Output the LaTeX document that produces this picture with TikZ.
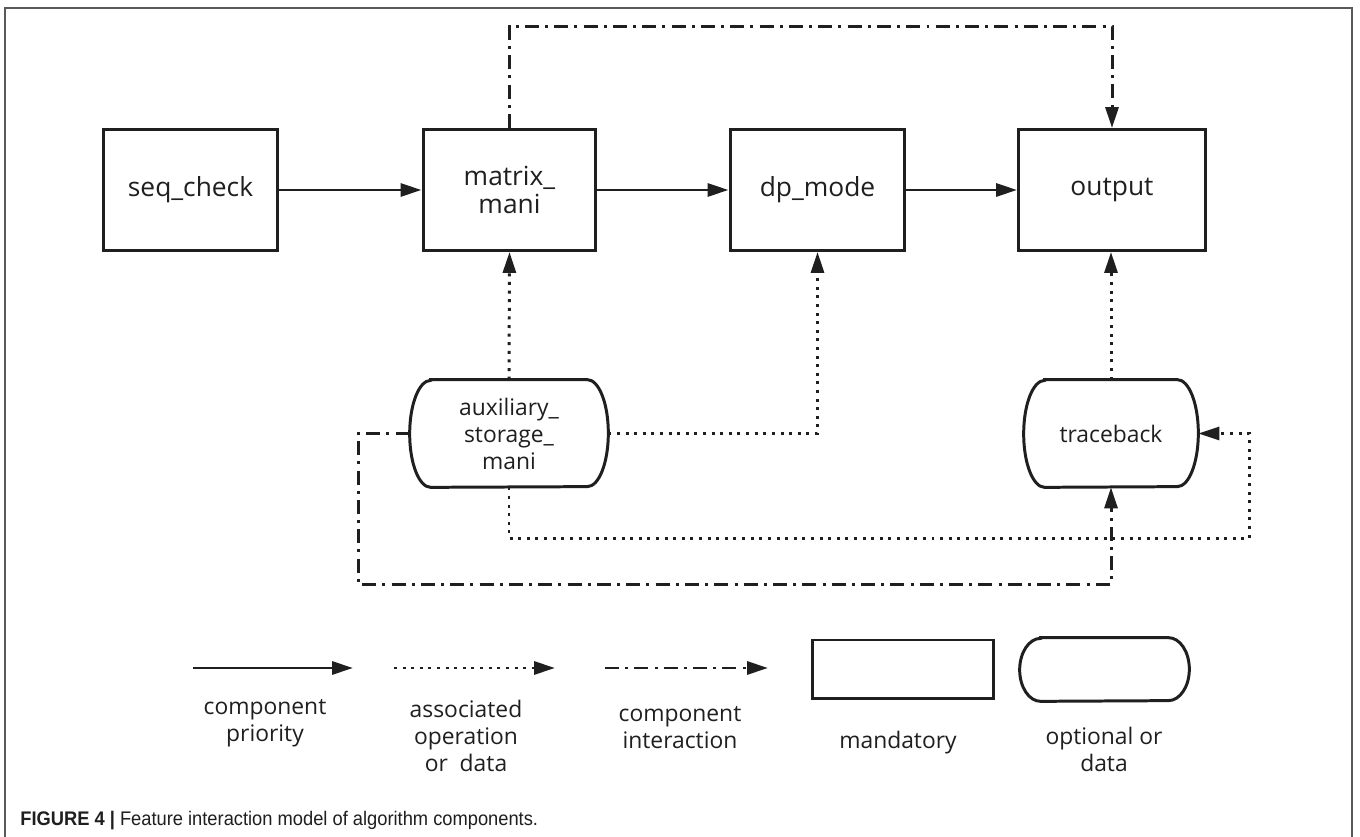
\documentclass[tikz,border=0pt]{standalone}
\usepackage{fontspec}
\setmainfont{Open Sans}
\newfontfamily\capfont[FakeStretch=0.93]{Liberation Sans}
\usetikzlibrary{arrows.meta,calc}
\definecolor{ink}{rgb}{0.12,0.12,0.12}
\newcommand\optoutline[3]{%
  \draw[draw=ink,line width=1.7pt] ([xshift=#2]#1.north west) -- ([xshift=-#2]#1.north east)
    arc[start angle=90,end angle=-90,x radius=#2,y radius=#3]
    -- ([xshift=#2]#1.south west)
    arc[start angle=270,end angle=90,x radius=#2,y radius=#3] -- cycle;}
\tikzset{
  txt/.style={font=\fontsize{13}{15.4}\selectfont, text=ink, align=center},
  big/.style={font=\fontsize{15}{16}\selectfont},
  mand/.style={txt, draw=ink, line width=1.7pt, inner sep=0pt, minimum height=2.42cm},
  opt/.style={txt, draw=none, inner sep=0pt, minimum height=2.14cm},
  prio/.style={draw=ink, line width=1.7pt, -{Triangle[length=0.42cm,width=0.26cm]}},
  assoc/.style={prio, dash pattern=on 1.7pt off 3.2pt},
  inter/.style={prio, dash pattern=on 8pt off 3.5pt on 1.7pt off 3.5pt},
}
\begin{document}
\begin{tikzpicture}[x=0.02cm,y=0.02cm]
\useasboundingbox (0,0) rectangle (1360,-837);
\fill[white] (0,0) rectangle (1360,-837);
\draw[black!65, line width=1pt] (5,-840) -- (5,-8) -- (1352,-8) -- (1352,-840);

% main nodes
\node[mand, big, minimum width=3.48cm] (seq) at (190.5,-190) {seq\_check};
\node[mand, big, minimum width=3.46cm] (mat) at (509.5,-190) {matrix\_\\mani};
\node[mand, big, minimum width=3.5cm] (dp) at (817.5,-190) {dp\_mode};
\node[mand, big, minimum width=3.74cm] (out) at (1112,-190) {output};
\node[opt, minimum width=3.96cm] (aux) at (509,-433.5) {auxiliary\_\\storage\_\\mani};
\optoutline{aux}{0.42cm}{1.07cm}
\node[opt, minimum width=3.48cm] (tb) at (1111,-433.5) {traceback};
\optoutline{tb}{0.42cm}{1.07cm}

% solid connectors
\draw[prio] (seq) -- (mat);
\draw[prio] (mat) -- (dp);
\draw[prio] (dp) -- (out);

% dotted connectors
\draw[assoc] (aux.north) -- (mat.south);
\draw[assoc] (aux.east) -| (dp.south);
\draw[assoc] (tb.north) -- (tb.north |- out.south);
\draw[assoc] (aux.south) -- ++(0,-51) -| ($(tb.east)+(51,0)$) -- (tb.east);

% dash-dot connectors
\draw[inter] (mat.north) -- ++(0,102) -| (out.north);
\draw[inter] (aux.west) -- ++(-51,0) |- ($(tb.south)+(0,-97)$) -- (tb.south);

% legend
\coordinate (a1) at (193,-668); \coordinate (b1) at (353,-668);
\coordinate (a2) at (394,-668); \coordinate (b2) at (555,-668);
\coordinate (a3) at (605,-668); \coordinate (b3) at (768,-668);
\draw[prio] (a1) -- (b1);
\draw[assoc] (a2) -- (b2);
\draw[inter] (a3) -- (b3);
\node[mand, minimum width=3.64cm, minimum height=1.18cm] (lm) at (903,-669.5) {};
\node[opt, minimum width=3.38cm, minimum height=1.26cm] (lo) at (1104.5,-669.5) {};
\optoutline{lo}{0.42cm}{0.63cm}
\node[txt] (l1) at (265,-723) {component\\priority};
\node[txt] (l2) at (466,-736) {associated\\operation\\or\ \ data};
\node[txt] (l3) at (680,-728) {component\\interaction};
\node[txt] (l4) at (898,-743) {mandatory};
\node[txt] (l5) at (1104,-749) {optional or\\data};

% caption
\node[anchor=base west, inner sep=0pt, text=ink, font=\capfont\fontsize{11.2}{12}\selectfont] (cap) at (20,-826)
  {\textbf{FIGURE 4 |} Feature interaction model of algorithm components.};
\end{tikzpicture}
\end{document}
